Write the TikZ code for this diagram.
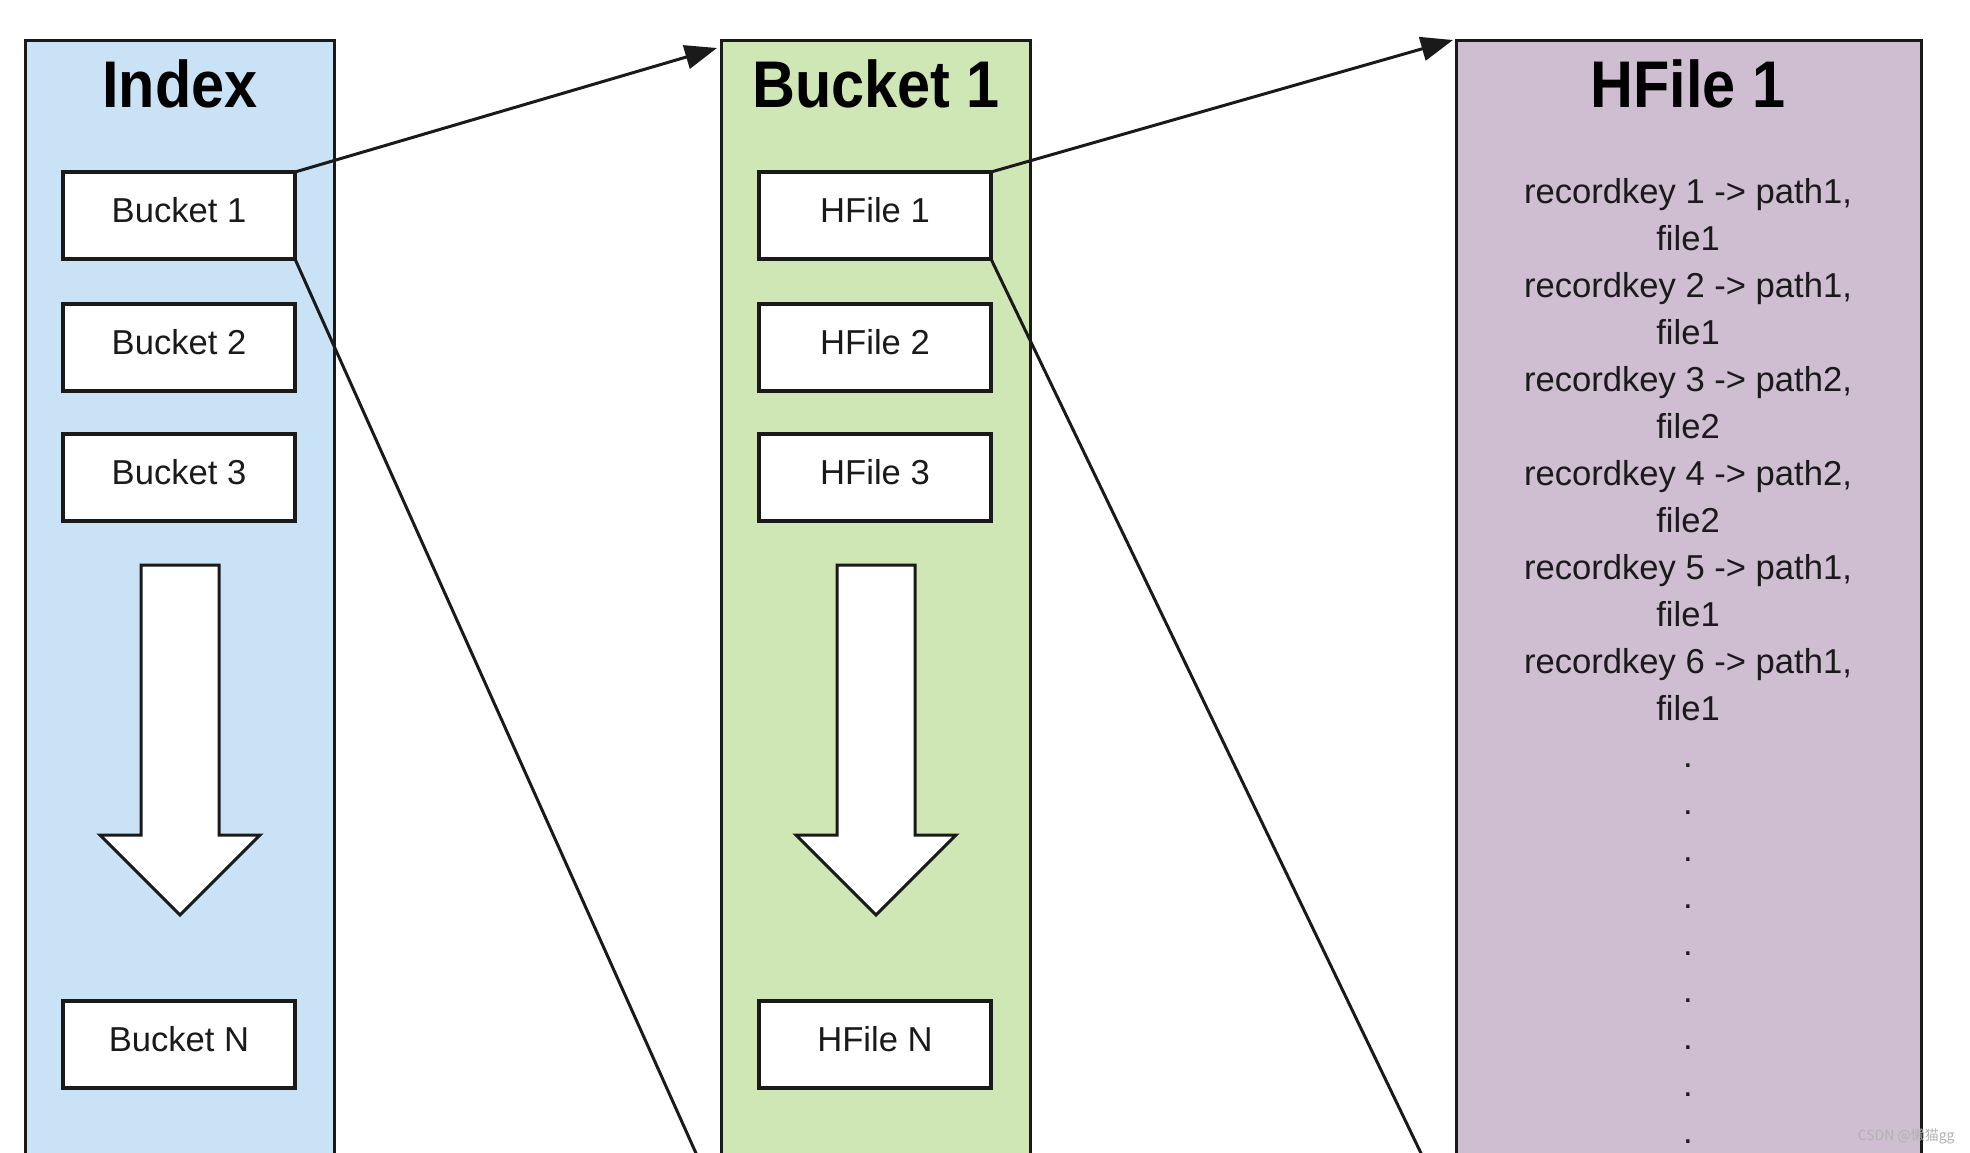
\documentclass[tikz,border=0pt]{standalone}
\usepackage{fontspec}
\setmainfont{Liberation Sans}
\newfontfamily\titlefont[FakeStretch=0.9]{Liberation Sans}
\newfontfamily\cjk{Noto Sans CJK SC}
\usetikzlibrary{arrows.meta}
\definecolor{idxblue}{HTML}{C9E2F5}
\definecolor{bktgreen}{HTML}{CFE7B5}
\definecolor{hfpurple}{HTML}{CFBDD2}
\definecolor{ink}{HTML}{1A1A1A}
\tikzset{
  panel/.style={draw=ink, line width=1.5pt, minimum height=590pt, inner sep=0pt, outer sep=0pt, anchor=north},
  itembox/.style={draw=ink, fill=white, line width=2pt, minimum width=116pt, minimum height=43.5pt,
    inner sep=0pt, outer sep=0pt, font=\fontsize{17.3}{20}\selectfont, text depth=5.5pt, text=ink},
  paneltitle/.style={anchor=base, font=\titlefont\bfseries\fontsize{33}{40}\selectfont, text=black, inner sep=0pt},
  rec/.style={anchor=base, font=\fontsize{17.3}{20}\selectfont, text=ink, inner sep=0pt},
  link/.style={draw=ink, line width=1.5pt},
  linkarrow/.style={link, -{Triangle[length=16pt,width=12pt]}},
  blockarrow/.style={draw=ink, fill=white, line width=1.5pt, line join=miter}
}
\begin{document}
\begin{tikzpicture}[x=0.5pt,y=-0.5pt]
\clip (0,0) rectangle (1970,1152);
\fill[white] (0,0) rectangle (1970,1152);

% panels
\node[panel, fill=idxblue, minimum width=154.5pt] (pidx) at (179.5,40) {};
\node[panel, fill=bktgreen, minimum width=154.5pt] (pbk) at (875.5,40) {};
\node[panel, fill=hfpurple, minimum width=232.5pt] (phf) at (1688.5,40) {};

% titles
\node[paneltitle] (tidx) at (180,107) {Index};
\node[paneltitle] (tbk) at (876,107) {Bucket 1};
\node[paneltitle] (thf) at (1688,107) {HFile 1};

% index boxes
\node[itembox] (b1) at (179,215.5) {Bucket 1};
\node[itembox] (b2) at (179,347) {Bucket 2};
\node[itembox] (b3) at (179,477) {Bucket 3};
\node[itembox] (bn) at (179,1044.5) {Bucket N};

% bucket boxes
\node[itembox] (h1) at (875,215.5) {HFile 1};
\node[itembox] (h2) at (875,347) {HFile 2};
\node[itembox] (h3) at (875,477) {HFile 3};
\node[itembox] (hn) at (875,1044.5) {HFile N};

% block arrows
\draw[blockarrow] (141,565) -- (219,565) -- (219,835) -- (260,835) -- (180,915) -- (100,835) -- (141,835) -- cycle;
\draw[blockarrow] (837,565) -- (915,565) -- (915,835) -- (956,835) -- (876,915) -- (796,835) -- (837,835) -- cycle;

% records
\foreach \t [count=\i from 0] in {{recordkey 1 -> path1,},{file1},{recordkey 2 -> path1,},{file1},{recordkey 3 -> path2,},{file2},{recordkey 4 -> path2,},{file2},{recordkey 5 -> path1,},{file1},{recordkey 6 -> path1,},{file1}}
  \node[rec] (r\i) at (1688,{203+47*\i}) {\t};
\foreach \i in {12,...,20}
  \node[rec] (d\i) at (1688,{203+47*\i}) {.};

% connectors
\draw[linkarrow] (b1.north east) -- ([shift={(-4,8)}]pbk.north west);
\draw[linkarrow] (h1.north east) -- ([shift={(-3,0)}]phf.north west);
\coordinate (e1) at (721,1209);
\coordinate (e2) at (1456,1226);
\draw[link] (b1.south east) -- (e1);
\draw[link] (h1.south east) -- (e2);

% watermark
\node[font=\cjk\fontsize{7}{8}\selectfont, text=black!30, anchor=east, inner sep=0pt] (wm) at (1955,1136) {CSDN @懒猫gg};
\end{tikzpicture}
\end{document}
